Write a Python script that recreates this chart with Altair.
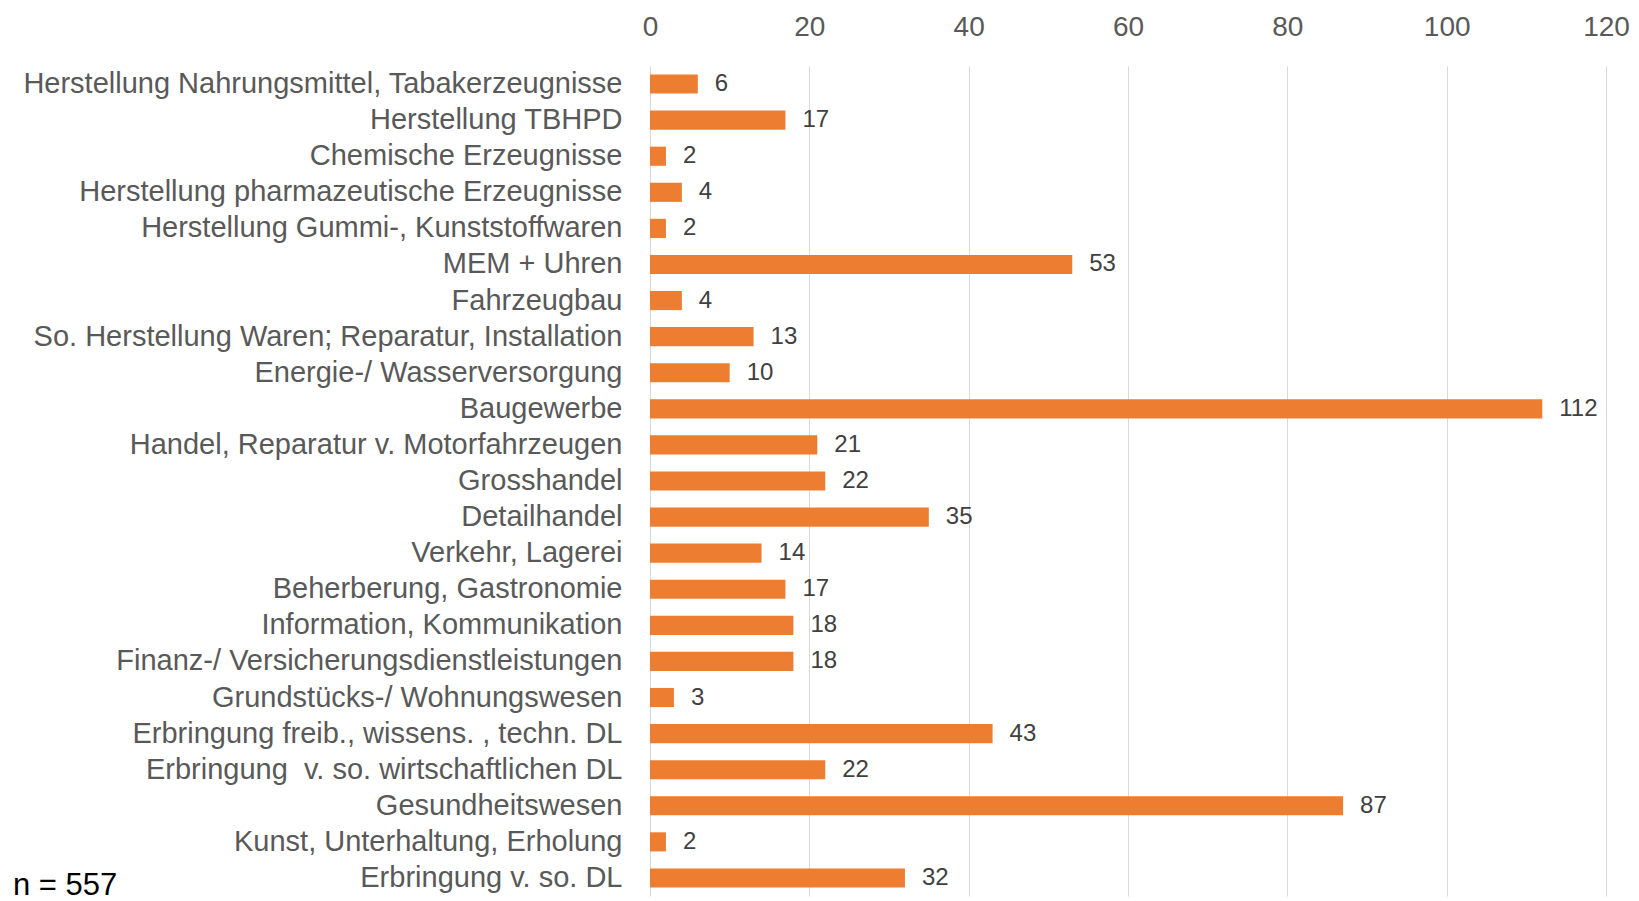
import altair as alt
import pandas as pd

categories = [
    "Herstellung Nahrungsmittel, Tabakerzeugnisse",
    "Herstellung TBHPD",
    "Chemische Erzeugnisse",
    "Herstellung pharmazeutische Erzeugnisse",
    "Herstellung Gummi-, Kunststoffwaren",
    "MEM + Uhren",
    "Fahrzeugbau",
    "So. Herstellung Waren; Reparatur, Installation",
    "Energie-/ Wasserversorgung",
    "Baugewerbe",
    "Handel, Reparatur v. Motorfahrzeugen",
    "Grosshandel",
    "Detailhandel",
    "Verkehr, Lagerei",
    "Beherberung, Gastronomie",
    "Information, Kommunikation",
    "Finanz-/ Versicherungsdienstleistungen",
    "Grundstücks-/ Wohnungswesen",
    "Erbringung freib., wissens. , techn. DL",
    "Erbringung \u00a0v. so. wirtschaftlichen DL",
    "Gesundheitswesen",
    "Kunst, Unterhaltung, Erholung",
    "Erbringung v. so. DL",
]
values = [6, 17, 2, 4, 2, 53, 4, 13, 10, 112, 21, 22, 35, 14, 17, 18, 18, 3, 43, 22, 87, 2, 32]
x_ticks = [0, 20, 40, 60, 80, 100, 120]

df = pd.DataFrame({"cat": categories, "val": values})

FONT = "Liberation Sans"

y_enc = alt.Y(
    "cat:N",
    sort=categories,
    title=None,
    scale=alt.Scale(paddingInner=0.47, paddingOuter=0.235),
    axis=alt.Axis(
        ticks=False,
        domain=False,
        labelFontSize=29,
        labelColor="#595959",
        labelFont=FONT,
        labelPadding=28,
        labelLimit=1000,
        minExtent=637,
        maxExtent=637,
    ),
)
x_enc = alt.X(
    "val:Q",
    title=None,
    scale=alt.Scale(domain=[0, 120], nice=False),
    axis=alt.Axis(
        orient="top",
        values=x_ticks,
        ticks=False,
        domain=False,
        labelFlush=False,
        labelFontSize=28,
        labelColor="#595959",
        labelFont=FONT,
        labelPadding=25,
        gridColor="#d9d9d9",
        gridWidth=1,
        minExtent=53,
        maxExtent=53,
    ),
)

bars = alt.Chart(df).mark_bar(color="#ED7D31").encode(x=x_enc, y=y_enc)
labels = alt.Chart(df).mark_text(
    align="left", baseline="middle", dx=17, fontSize=24, color="#404040", font=FONT
).encode(x="val:Q", y=alt.Y("cat:N", sort=categories), text="val:Q")

chart = (
    alt.layer(bars, labels)
    .properties(
        width=956,
        height=830,
        padding={"left": 5, "top": 5, "right": 0, "bottom": 0},
        title=alt.TitleParams(
            "n = 557",
            orient="bottom",
            anchor="start",
            frame="bounds",
            offset=-25,
            fontSize=31,
            fontWeight="normal",
            font=FONT,
            color="#000000",
        ),
    )
    .configure_view(stroke=None)
)

chart.save("out.html", embed_options={"renderer": "svg", "actions": False})
